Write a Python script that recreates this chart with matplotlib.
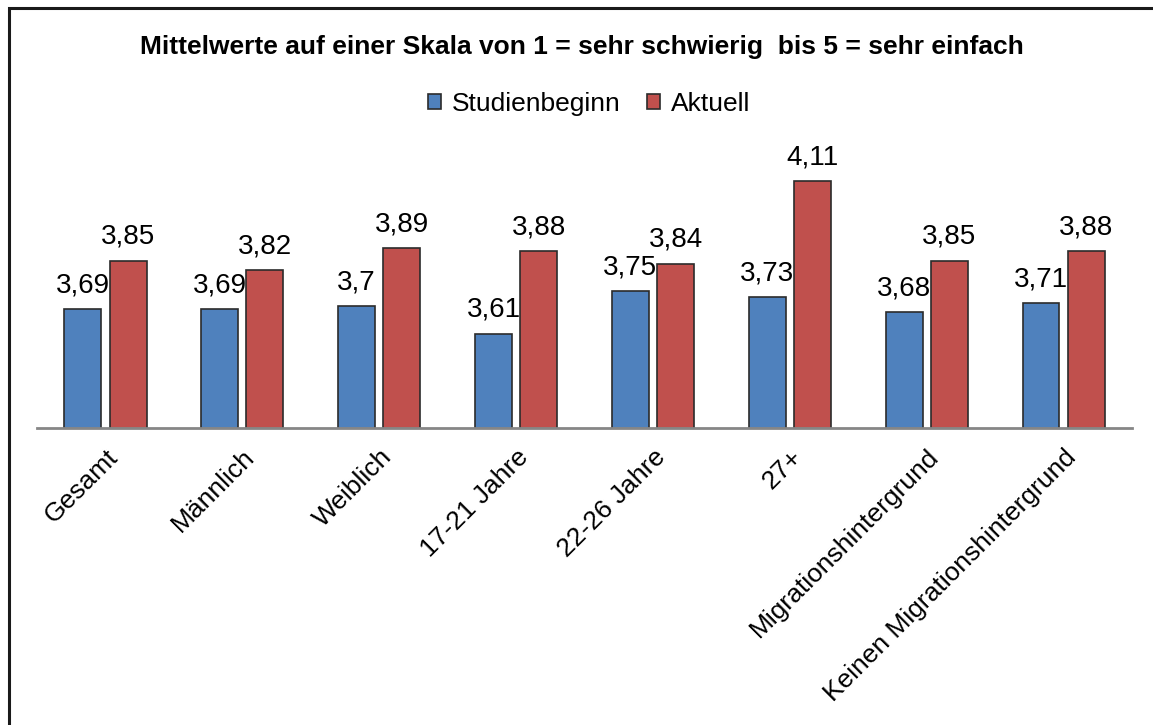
import matplotlib.pyplot as plt
import matplotlib.patches as mpatches
import numpy as np

plt.rcParams['font.family'] = ['Liberation Sans', 'DejaVu Sans']

# Data
categories = ['Gesamt', 'Männlich', 'Weiblich', '17-21 Jahre', '22-26 Jahre', '27+',
              'Migrationshintergrund', 'Keinen Migrationshintergrund']
studienbeginn = [3.69, 3.69, 3.70, 3.61, 3.75, 3.73, 3.68, 3.71]
aktuell = [3.85, 3.82, 3.89, 3.88, 3.84, 4.11, 3.85, 3.88]
series_names = ['Studienbeginn', 'Aktuell']
colors = ['#4F81BD', '#C0504D']

W, H = 1153, 725
fig = plt.figure(figsize=(W / 100, H / 100), dpi=100)

# outer chart border (runs off the right and bottom edge)
fig.patches.append(mpatches.Rectangle((9 / W, -0.05), 1.2, 1 - 8 / H + 0.05,
                                      transform=fig.transFigure, fill=False,
                                      edgecolor='#1a1a1a', linewidth=2.2))

ax = fig.add_axes([37 / W, 1 - 428 / H, (1132 - 37) / W, (428 - 154) / H])
x = np.arange(len(categories))
w = 0.27
off = 0.165

def fmt(v):
    return ('%g' % v).replace('.', ',')

for vals, sign, col, name in [(studienbeginn, -1, colors[0], series_names[0]),
                              (aktuell, 1, colors[1], series_names[1])]:
    bars = ax.bar(x + sign * off, vals, width=w, color=col, edgecolor='#2b2b2b',
                  linewidth=1.2, label=name)
    for b, v in zip(bars, vals):
        ax.annotate(fmt(v), (b.get_x() + b.get_width() / 2, v), xytext=(0, 12),
                    textcoords='offset points', ha='center', va='baseline', fontsize=20)

ax.set_xlim(-0.5, len(categories) - 0.5)
ax.set_ylim(3.3, 4.2)
ax.set_yticks([])
for s in ['top', 'right', 'left']:
    ax.spines[s].set_visible(False)
ax.spines['bottom'].set_color('#868686')
ax.spines['bottom'].set_linewidth(2)
ax.set_xticks(x)
ax.set_xticklabels(categories, rotation=45, ha='right', va='top',
                   rotation_mode='anchor', fontsize=19)
ax.tick_params(axis='x', length=0, pad=12)
ax.set_facecolor('none')

fig.text(0.505, 1 - 47 / H, 'Mittelwerte auf einer Skala von 1 = sehr schwierig  bis 5 = sehr einfach',
         ha='center', va='center', fontsize=19, fontweight='bold')

fig.legend(loc='center', bbox_to_anchor=(0.511, 1 - 104 / H), ncol=2, frameon=False,
           fontsize=19, handlelength=0.5, handleheight=0.5, handletextpad=0.4,
           columnspacing=1.0)

fig.savefig('out.png', dpi=100)
